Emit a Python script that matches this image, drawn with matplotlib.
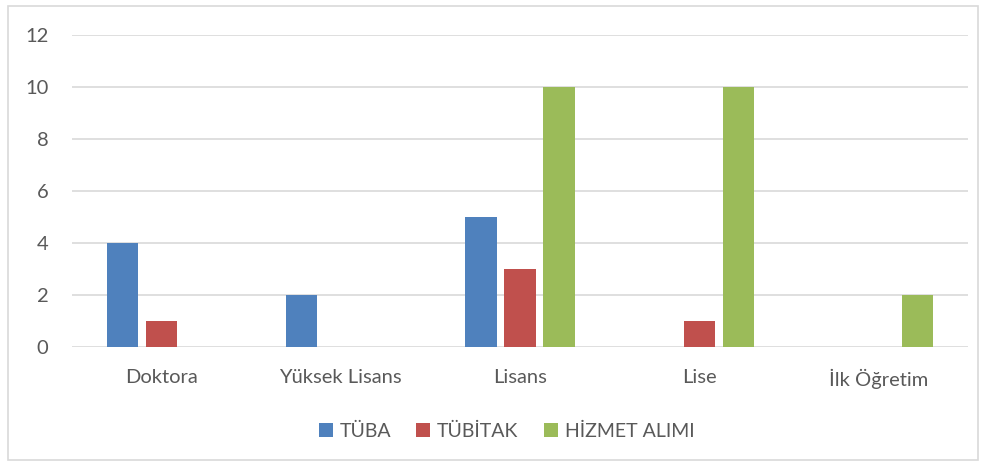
import numpy as np
import matplotlib
matplotlib.use("Agg")
import matplotlib.pyplot as plt
from matplotlib.patches import Rectangle

plt.rcParams['font.family'] = ['Lato', 'DejaVu Sans']

categories = ["Doktora", "Yüksek Lisans", "Lisans", "Lise", "İlk Öğretim"]
tuba = [4, 2, 5, 0, 0]
tubitak = [1, 0, 3, 1, 0]
hizmet = [0, 0, 10, 10, 2]
series_names = ["TÜBA", "TÜBİTAK", "HİZMET ALIMI"]
colors = ["#4F81BD", "#C0504D", "#9BBB59"]
text_color = "#595959"

fig = plt.figure(figsize=(9.87, 4.66), dpi=100)
ax = fig.add_axes([72/987, 1-347/466, 896/987, 312/466])

x = np.arange(len(categories))
w = 0.174
offs = [-0.218, 0, 0.218]
handles = []
for vals, off, c, name in zip([tuba, tubitak, hizmet], offs, colors, series_names):
    b = ax.bar(x + off, vals, width=w, color=c, label=name, zorder=3)
    handles.append(b)

ax.set_xlim(-0.5, len(categories) - 0.5)
ax.set_ylim(0, 12)
ax.set_yticks(range(0, 13, 2))
ax.set_xticks(x)
ax.set_xticklabels(categories)
ax.yaxis.grid(True, color="#D9D9D9", linewidth=1.2, zorder=0)
for s in ax.spines.values():
    s.set_visible(False)
ax.tick_params(axis='both', length=0, labelsize=14.5, colors=text_color)
ax.tick_params(axis='y', pad=17)
ax.tick_params(axis='x', pad=16)

fig.legend(handles=handles, labels=series_names, loc='center', bbox_to_anchor=(0.513, 1-431/466),
           ncol=3, frameon=False, fontsize=14, labelcolor=text_color,
           handlelength=0.72, handleheight=0.72, handletextpad=0.35, columnspacing=1.3)

fig.patches.append(Rectangle((8/987, 6/466), 970/987, 454/466, transform=fig.transFigure,
                             fill=False, edgecolor="#D9D9D9", linewidth=1.2))

fig.savefig("out.png", dpi=100, facecolor="white")
